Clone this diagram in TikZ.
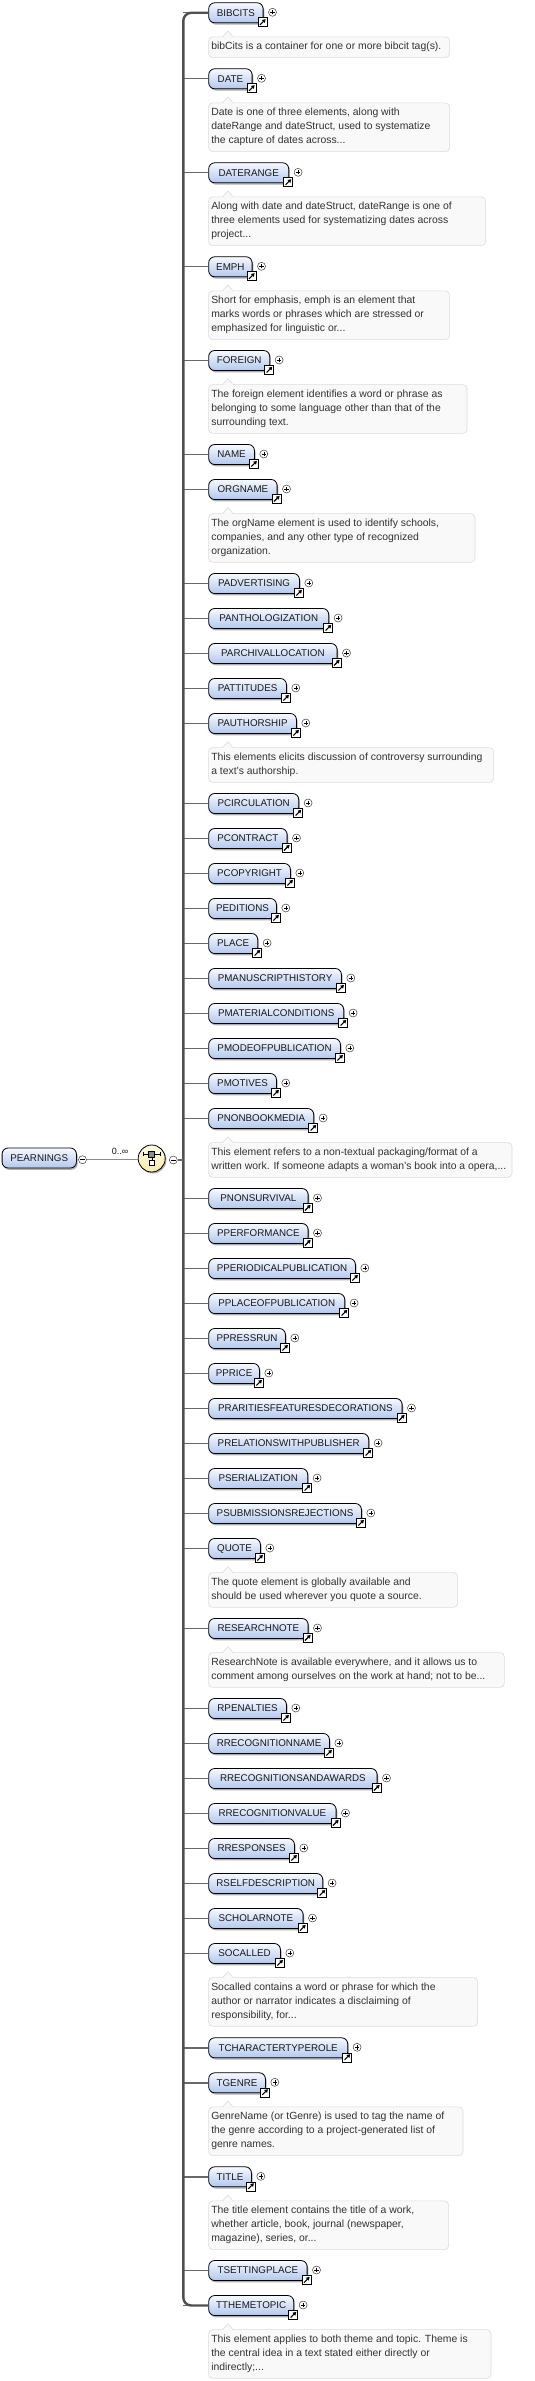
\documentclass[tikz,border=0pt]{standalone}
\usepackage{fontspec}
\setmainfont{Liberation Sans}
\usetikzlibrary{shadows,shapes.misc,arrows.meta,calc}
\definecolor{elTop}{RGB}{246,249,255}
\definecolor{elBot}{RGB}{178,200,238}
\definecolor{docFill}{RGB}{249,249,249}
\definecolor{docLine}{RGB}{220,220,220}
\definecolor{lineGray}{RGB}{105,105,105}
\definecolor{barGray}{RGB}{80,80,80}
\definecolor{txt}{RGB}{25,25,25}
\definecolor{docTxt}{RGB}{50,50,50}
\definecolor{cmpTop}{RGB}{255,253,225}
\definecolor{cmpBot}{RGB}{245,235,170}
\tikzset{
 elbox/.style={draw=black, line width=0.8pt, rounded corners=6pt, top color=elTop, bottom color=elBot,
   minimum height=20pt, inner xsep=0pt, inner ysep=0pt, anchor=west,
   font=\fontsize{9.8}{10}\selectfont, text=txt,
   drop shadow={shadow xshift=1.2pt, shadow yshift=-1.8pt, fill=black!45, opacity=0.7}},
 plusc/.style={circle, draw=black!75, line width=0.5pt, fill=white, minimum size=8pt, inner sep=0pt,
   path picture={\draw[black, line width=0.6pt]
     ([xshift=-2.2pt]path picture bounding box.center) -- ([xshift=2.2pt]path picture bounding box.center)
     ([yshift=-2.2pt]path picture bounding box.center) -- ([yshift=2.2pt]path picture bounding box.center);}},
 minusc/.style={circle, draw=black!75, line width=0.5pt, fill=white, minimum size=8pt, inner sep=0pt,
   path picture={\draw[black, line width=0.6pt]
     ([xshift=-2.2pt]path picture bounding box.center) -- ([xshift=2.2pt]path picture bounding box.center);}},
 scut/.style={rectangle, draw=black, line width=0.6pt, fill=white, minimum size=9pt, inner sep=0pt,
   path picture={\draw[black, line width=1.1pt, -{Triangle[length=3.2pt,width=3.8pt]}]
     ([shift={(2pt,2pt)}]path picture bounding box.south west) --
     ([shift={(-1.4pt,-1.4pt)}]path picture bounding box.north east);}},
 conn/.style={draw=lineGray, line width=1.4pt},
 thinconn/.style={draw=black!45, line width=0.8pt},
 barline/.style={draw=barGray, line width=2.4pt, rounded corners=8pt},
 docbox/.style={rectangle, rounded corners=4pt, draw=docLine, line width=0.6pt, fill=docFill,
   inner sep=0pt, anchor=north west},
 doctext/.style={inner sep=0pt, align=left, font=\fontsize{10.4}{14}\selectfont,
   text=docTxt, anchor=west},
 cmp/.style={circle, draw=black, line width=0.8pt, top color=cmpTop, bottom color=cmpBot,
   minimum size=27pt, inner sep=0pt,
   drop shadow={shadow xshift=1.2pt, shadow yshift=-1.5pt, fill=black!40, opacity=0.8}},
}
\newcommand\xel[3]{%
  \pgfmathsetmacro\elw{#3-208.3}%
  \node[elbox, minimum width=\elw pt] (#1) at (208.3,#2-0.5) {#1};
  \node[plusc] (#1-p) at ([xshift=9pt,yshift=0.5pt]#1.east) {};
  \node[scut] (#1-s) at ([xshift=-1pt,yshift=-9.5pt]#1.east) {};
  \draw[conn] (#1.west) -- (#1.west -| bar);
}
\newcommand\xdoc[4]{%
  \pgfmathsetmacro\dw{#2-208.3}%
  \pgfmathsetmacro\dh{#3*14+6.7}%
  \node[docbox, minimum width=\dw pt, minimum height=\dh pt] (#1-d) at ([yshift=-23.8pt]#1.west) {};
  \node[doctext] (#1-t) at ([xshift=2.8pt,yshift=0.3pt]#1-d.west) {#4};
  \fill[docFill] ([xshift=14.5pt,yshift=-0.8pt]#1-d.north west) -- ++(5pt,6pt) -- ++(5pt,-6pt) -- cycle;
  \draw[docLine, line width=0.6pt] ([xshift=14.5pt]#1-d.north west) -- ++(5pt,5.5pt) -- ++(5pt,-5.5pt);
}
\begin{document}
\begin{tikzpicture}[x=1pt,y=-1pt]
\fill[white] (0,0) rectangle (535,2381);
\useasboundingbox (0,0) rectangle (535,2381);
\coordinate (bar) at (183.3,0);

\xel{BIBCITS}{13.3}{262.7}
\xdoc{BIBCITS}{449.3}{1}{bibCits is a container for one or more bibcit tag(s).}
\xel{DATE}{79.3}{251.7}
\xdoc{DATE}{449.3}{3}{Date is one of three elements, along with\\dateRange and dateStruct, used to systematize\\the capture of dates across...}
\xel{DATERANGE}{173.3}{288.3}
\xdoc{DATERANGE}{485.3}{3}{Along with date and dateStruct, dateRange is one of\\three elements used for systematizing dates across\\project...}
\xel{EMPH}{267.3}{251.7}
\xdoc{EMPH}{449.3}{3}{Short for emphasis, emph is an element that\\marks words or phrases which are stressed or\\emphasized for linguistic or...}
\xel{FOREIGN}{361}{269.3}
\xdoc{FOREIGN}{466.7}{3}{The foreign element identifies a word or phrase as\\belonging to some language other than that of the\\surrounding text.}
\xel{NAME}{455}{254}
\xel{ORGNAME}{490}{276.7}
\xdoc{ORGNAME}{474.7}{3}{The orgName element is used to identify schools,\\companies, and any other type of recognized\\organization.}
\xel{PADVERTISING}{584}{299}
\xel{PANTHOLOGIZATION}{619}{328.3}
\xel{PARCHIVALLOCATION}{654}{336.7}
\xel{PATTITUDES}{689}{286}
\xel{PAUTHORSHIP}{724}{296}
\xdoc{PAUTHORSHIP}{493.3}{2}{This elements elicits discussion of controversy surrounding\\a text's authorship.}
\xel{PCIRCULATION}{804}{298.3}
\xel{PCONTRACT}{839}{286.7}
\xel{PCOPYRIGHT}{874}{290}
\xel{PEDITIONS}{909}{276}
\xel{PLACE}{944}{257.3}
\xel{PMANUSCRIPTHISTORY}{979}{341}
\xel{PMATERIALCONDITIONS}{1014}{343.3}
\xel{PMODEOFPUBLICATION}{1049}{340}
\xel{PMOTIVES}{1084}{276}
\xel{PNONBOOKMEDIA}{1119}{313.3}
\xdoc{PNONBOOKMEDIA}{511.7}{2}{This element refers to a non-textual packaging/format of a\\written work. If someone adapts a woman's book into a opera,...}
\xel{PNONSURVIVAL}{1199}{307.7}
\xel{PPERFORMANCE}{1234}{307.7}
\xel{PPERIODICALPUBLICATION}{1269}{355}
\xel{PPLACEOFPUBLICATION}{1304}{344.3}
\xel{PPRESSRUN}{1339}{285}
\xel{PPRICE}{1374}{259}
\xel{PRARITIESFEATURESDECORATIONS}{1409}{401.7}
\xel{PRELATIONSWITHPUBLISHER}{1444}{368.3}
\xel{PSERIALIZATION}{1479}{307.3}
\xel{PSUBMISSIONSREJECTIONS}{1514}{361}
\xel{QUOTE}{1549}{260}
\xdoc{QUOTE}{457.3}{2}{The quote element is globally available and\\should be used wherever you quote a source.}
\xel{RESEARCHNOTE}{1629}{307.7}
\xdoc{RESEARCHNOTE}{504}{2}{ResearchNote is available everywhere, and it allows us to\\comment among ourselves on the work at hand; not to be...}
\xel{RPENALTIES}{1709}{286}
\xel{RRECOGNITIONNAME}{1744}{329}
\xel{RRECOGNITIONSANDAWARDS}{1779}{376.7}
\xel{RRECOGNITIONVALUE}{1814}{335.7}
\xel{RRESPONSES}{1849}{294}
\xel{RSELFDESCRIPTION}{1884}{322.3}
\xel{SCHOLARNOTE}{1919}{302.7}
\xel{SOCALLED}{1954}{280}
\xdoc{SOCALLED}{477.3}{3}{Socalled contains a word or phrase for which the\\author or narrator indicates a disclaiming of\\responsibility, for...}
\xel{TCHARACTERTYPEROLE}{2048.3}{347.3}
\xel{TGENRE}{2083.3}{265}
\xdoc{TGENRE}{462.7}{3}{GenreName (or tGenre) is used to tag the name of\\the genre according to a project-generated list of\\genre names.}
\xel{TITLE}{2177.3}{251}
\xdoc{TITLE}{448.3}{3}{The title element contains the title of a work,\\whether article, book, journal (newspaper,\\magazine), series, or...}
\xel{TSETTINGPLACE}{2271}{306.7}
\xel{TTHEMETOPIC}{2306}{293.3}
\xdoc{TTHEMETOPIC}{490.7}{3}{This element applies to both theme and topic. Theme is\\the central idea in a text stated either directly or\\indirectly;...}

\draw[barline] (BIBCITS.west) -- (BIBCITS.west -| bar) -- (TTHEMETOPIC.west -| bar) -- (TTHEMETOPIC.west);

% root element and compositor
\node[elbox, minimum width=74.3pt] (PEARNINGS) at (1.7,1158) {PEARNINGS};
\node[minusc] (PEARNINGS-m) at ([xshift=5.7pt,yshift=-1.7pt]PEARNINGS.east) {};
\node[cmp] (seq) at (151.7,1158.5) {};
\node[minusc] (seq-m) at ([xshift=7.7pt,yshift=-1.5pt]seq.east) {};
\draw[thinconn] (PEARNINGS-m) -- (PEARNINGS-m -| seq.west);
\draw[conn] (seq-m) -- (seq-m -| bar);
\node[font=\fontsize{9}{10}\selectfont, text=txt] (occ) at (120,1151.5) {0..∞};
% sequence symbol
\draw[black, line width=0.6pt] ([shift={(-8.3pt,4.3pt)}]seq.center) -- ([shift={(8.3pt,4.3pt)}]seq.center);
\draw[black, line width=0.6pt] ([shift={(-8.3pt,2.3pt)}]seq.center) -- ([shift={(-8.3pt,6.3pt)}]seq.center);
\draw[black, line width=0.6pt] ([shift={(8.3pt,2.3pt)}]seq.center) -- ([shift={(8.3pt,6.3pt)}]seq.center);
\draw[black, line width=0.6pt] ([shift={(0.4pt,4.3pt)}]seq.center) -- ([shift={(0.4pt,-4pt)}]seq.center);
\filldraw[fill=black!45, draw=black, line width=0.6pt] ([shift={(-3pt,1.3pt)}]seq.center) rectangle ([shift={(3pt,7.3pt)}]seq.center);
\filldraw[fill=white, draw=black, line width=0.6pt] ([shift={(-2.1pt,-6.6pt)}]seq.center) rectangle ([shift={(2.9pt,-1.6pt)}]seq.center);
\end{tikzpicture}
\end{document}
